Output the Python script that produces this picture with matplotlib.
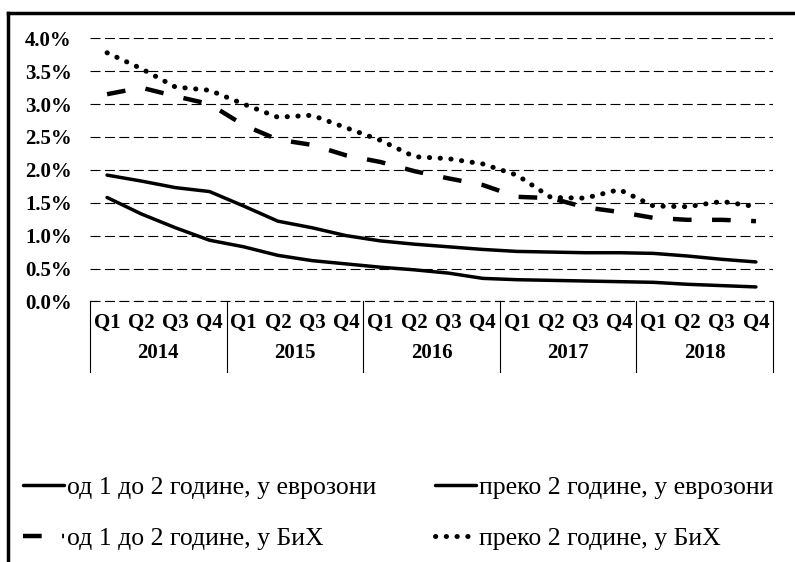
import matplotlib
matplotlib.use("Agg")
import matplotlib.pyplot as plt
from matplotlib.lines import Line2D
import numpy as np

plt.rcParams['font.family'] = ['Liberation Serif', 'DejaVu Serif']

# Каматне стопе по кварталима 2014-2018 (%)
godine = ["2014", "2015", "2016", "2017", "2018"]
kvartali = ["Q1", "Q2", "Q3", "Q4"]

euro_1_2 = [1.58, 1.33, 1.12, 0.93, 0.83, 0.70, 0.62, 0.57, 0.52, 0.48,
            0.43, 0.35, 0.33, 0.32, 0.31, 0.30, 0.29, 0.26, 0.24, 0.22]
euro_2 = [1.92, 1.83, 1.73, 1.67, 1.45, 1.22, 1.12, 1.00, 0.92, 0.87,
          0.83, 0.79, 0.76, 0.75, 0.74, 0.74, 0.73, 0.69, 0.64, 0.60]
bih_1_2 = [3.15, 3.25, 3.12, 3.00, 2.68, 2.46, 2.38, 2.22, 2.12, 1.98,
           1.87, 1.77, 1.59, 1.57, 1.43, 1.36, 1.27, 1.24, 1.24, 1.22]
bih_2 = [3.78, 3.54, 3.26, 3.21, 3.00, 2.80, 2.83, 2.64, 2.45, 2.20,
         2.17, 2.09, 1.92, 1.58, 1.57, 1.70, 1.45, 1.44, 1.52, 1.44]

labele = ["од 1 до 2 године, у еврозони", "преко 2 године, у еврозони",
          "од 1 до 2 године, у БиХ", "преко 2 године, у БиХ"]

fig = plt.figure(figsize=(7.95, 5.62), dpi=100)
ax = fig.add_axes([90 / 795, 1 - 301.4 / 562, 683 / 795, 263.1 / 562])

x = np.arange(len(euro_1_2))
l1, = ax.plot(x, euro_1_2, color='black', lw=2.5, solid_capstyle='round')
l2, = ax.plot(x, euro_2, color='black', lw=2.5, solid_capstyle='round')
l3, = ax.plot(x, bih_1_2, color='black', lw=3.2, linestyle=(0, (4.2, 4.6)))
l4, = ax.plot(x, bih_2, color='black', lw=3.6, linestyle=(0, (0.05, 2.1)),
              dash_capstyle='round')

ax.set_xlim(-0.5, len(x) - 0.5)
ax.set_ylim(0, 4.0)
ax.set_yticks(np.arange(0, 4.01, 0.5))
ax.set_yticklabels([f"{v:.1f}%" for v in np.arange(0, 4.01, 0.5)])
ax.yaxis.grid(True, linestyle=(0, (9, 4)), color='black', lw=0.8)
ax.axhline(0, linestyle=(0, (9, 4)), color='black', lw=0.8, clip_on=False, zorder=0)
ax.set_axisbelow(True)
for s in ax.spines.values():
    s.set_visible(False)

ax.set_xticks(x)
ax.set_xticklabels(kvartali * len(godine))
ax.tick_params(axis='both', length=0, labelsize=15)
ax.tick_params(axis='x', pad=8)
ax.tick_params(axis='y', pad=13)
for t in ax.get_xticklabels() + ax.get_yticklabels():
    t.set_fontweight('bold')

# године испод квартала и вертикалне линије између година
tr = ax.get_xaxis_transform()
n = len(kvartali)
for i, g in enumerate(godine):
    ax.text(i * n + (n - 1) / 2, -0.195, g, transform=tr, ha='center', va='center',
            fontsize=15, fontweight='bold')
for b in np.arange(-0.5, len(x), n):
    ax.plot([b, b], [0, -0.27], transform=tr, clip_on=False, color='black', lw=0.8)

fig.legend([l1, l3, l2, l4], [labele[0], labele[2], labele[1], labele[3]],
           ncol=2, loc='center left', bbox_to_anchor=(0.0, 1 - 513 / 562),
           frameon=False, fontsize=18.5, handlelength=1.6, handletextpad=0.1,
           columnspacing=2.3, labelspacing=1.1)

# оквир
fig.add_artist(Line2D([8 / 795, 8 / 795], [0, 1 - 13 / 562], transform=fig.transFigure,
                      color='black', lw=2.5))
fig.add_artist(Line2D([8 / 795, 1], [1 - 13 / 562, 1 - 13 / 562], transform=fig.transFigure,
                      color='black', lw=2.5))

fig.savefig("out.png", dpi=100)
